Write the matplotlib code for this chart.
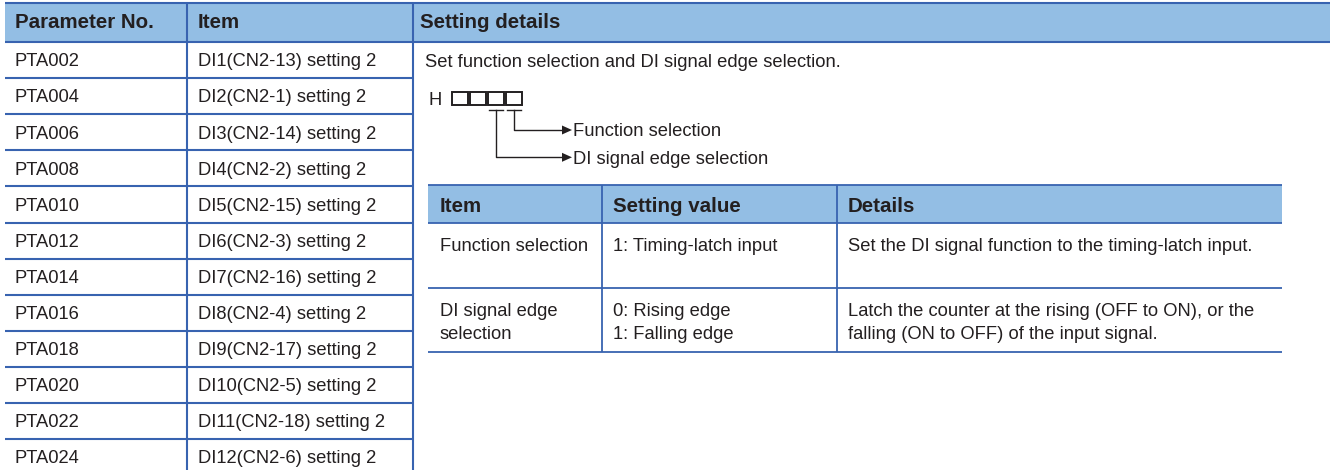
import matplotlib
matplotlib.use("Agg")
import matplotlib.pyplot as plt
from matplotlib.patches import Rectangle, Polygon

plt.rcParams['font.family'] = ['Liberation Sans', 'DejaVu Sans']

# ---- data ----
header = ["Parameter No.", "Item", "Setting details"]
param_nos = ["PTA002", "PTA004", "PTA006", "PTA008", "PTA010", "PTA012",
             "PTA014", "PTA016", "PTA018", "PTA020", "PTA022", "PTA024"]
items = ["DI1(CN2-13) setting 2", "DI2(CN2-1) setting 2", "DI3(CN2-14) setting 2",
         "DI4(CN2-2) setting 2", "DI5(CN2-15) setting 2", "DI6(CN2-3) setting 2",
         "DI7(CN2-16) setting 2", "DI8(CN2-4) setting 2", "DI9(CN2-17) setting 2",
         "DI10(CN2-5) setting 2", "DI11(CN2-18) setting 2", "DI12(CN2-6) setting 2"]
intro = "Set function selection and DI signal edge selection."
digits_label = "H"
n_digits = 4
pointers = [(3, "Function selection"), (2, "DI signal edge selection")]
inner_header = ["Item", "Setting value", "Details"]
inner_rows = [
    ["Function selection", "1: Timing-latch input",
     "Set the DI signal function to the timing-latch input."],
    ["DI signal edge\nselection", "0: Rising edge\n1: Falling edge",
     "Latch the counter at the rising (OFF to ON), or the\nfalling (ON to OFF) of the input signal."],
]

# ---- style ----
HEAD_BG = "#93BEE4"
LINE = "#3863B0"
TXT = "#231F20"
FS = 13.2
FSB = 14.8

W, H = 1330, 470
fig = plt.figure(figsize=(W / 100, H / 100), dpi=100)
ax = fig.add_axes([0, 0, 1, 1])
ax.set_xlim(0, W)
ax.set_ylim(H, 0)
ax.axis('off')

# outer table geometry
x_left = 5
col_x = [x_left, 187, 413, W]
top = 3
head_h = 39
row_h = 36.1
head_bot = top + head_h

ax.add_patch(Rectangle((x_left, top), W - x_left, head_h, color=HEAD_BG, lw=0, zorder=0))
pads = [10, 11, 7]
for i, h in enumerate(header):
    ax.text(col_x[i] + pads[i], 28.5, h, fontsize=FSB, fontweight='bold',
            color=TXT, va='baseline', ha='left')

ax.plot([x_left, W], [top, top], color=LINE, lw=1.5, solid_capstyle='butt')
ax.plot([x_left, W], [head_bot, head_bot], color=LINE, lw=1.5, solid_capstyle='butt')
for xv in col_x[1:3]:
    ax.plot([xv, xv], [top, H], color=LINE, lw=1.5, solid_capstyle='butt')

for r, (p, it) in enumerate(zip(param_nos, items)):
    y0 = head_bot + r * row_h
    yc = y0 + row_h / 2
    ax.text(col_x[0] + 10, yc + 6.3, p, fontsize=FS, color=TXT, va='baseline')
    ax.text(col_x[1] + 11, yc + 6.3, it, fontsize=FS, color=TXT, va='baseline')
    y1 = y0 + row_h
    if y1 < H:
        ax.plot([x_left, col_x[2]], [y1, y1], color=LINE, lw=1.5, solid_capstyle='butt')

# setting details content
cx = col_x[2] + 12
ax.text(cx, 66.7, intro, fontsize=FS, color=TXT, va='baseline')

# H □□□□ diagram
ax.text(428, 105.3, digits_label, fontsize=FS, color=TXT, va='baseline')
bx0, bw, bgap, by0, bh = 452, 15.5, 2.6, 91.5, 13.5
centers = []
for k in range(n_digits):
    bx = bx0 + k * (bw + bgap)
    ax.add_patch(Rectangle((bx, by0), bw, bh, fill=False, ec=TXT, lw=1.4))
    centers.append(bx + bw / 2)
ypoint = [130, 157.3]
tick_y = 109.5
arrow_end = 572
for j, (d, lab) in enumerate(pointers):
    c = centers[d]
    ax.plot([c - 7, c + 7], [tick_y, tick_y], color=TXT, lw=1.0)
    ax.plot([c, c, arrow_end - 9], [tick_y, ypoint[j], ypoint[j]], color=TXT, lw=1.0)
    ax.add_patch(Polygon([[arrow_end - 10, ypoint[j] - 4.5], [arrow_end - 10, ypoint[j] + 4.5],
                          [arrow_end, ypoint[j]]], closed=True, color=TXT, lw=0))
    ax.text(arrow_end + 1, ypoint[j] + 6.3, lab, fontsize=FS, color=TXT, va='baseline')

# inner table
ix = [428, 602, 837, 1282]
itop, ihead_bot = 185, 222.5
row_bots = [287.5, 351.5]
ax.add_patch(Rectangle((ix[0], itop), ix[3] - ix[0], ihead_bot - itop, color=HEAD_BG, lw=0, zorder=0))
for yv in [itop, ihead_bot] + row_bots:
    ax.plot([ix[0], ix[3]], [yv, yv], color=LINE, lw=1.3, solid_capstyle='butt')
for xv in ix[1:3]:
    ax.plot([xv, xv], [itop, row_bots[-1]], color=LINE, lw=1.3, solid_capstyle='butt')
ipad = [12, 11, 11]
for i, h in enumerate(inner_header):
    ax.text(ix[i] + ipad[i], 211.7, h, fontsize=FSB, fontweight='bold', color=TXT, va='baseline')
row_tops = [ihead_bot] + row_bots[:-1]
line_gap = 22.7
for r, row in enumerate(inner_rows):
    for i, cell in enumerate(row):
        for li, line in enumerate(cell.split("\n")):
            ax.text(ix[i] + ipad[i], row_tops[r] + 28.7 + li * line_gap, line,
                    fontsize=FS, color=TXT, va='baseline')

fig.savefig("out.png", dpi=100, facecolor='white')
